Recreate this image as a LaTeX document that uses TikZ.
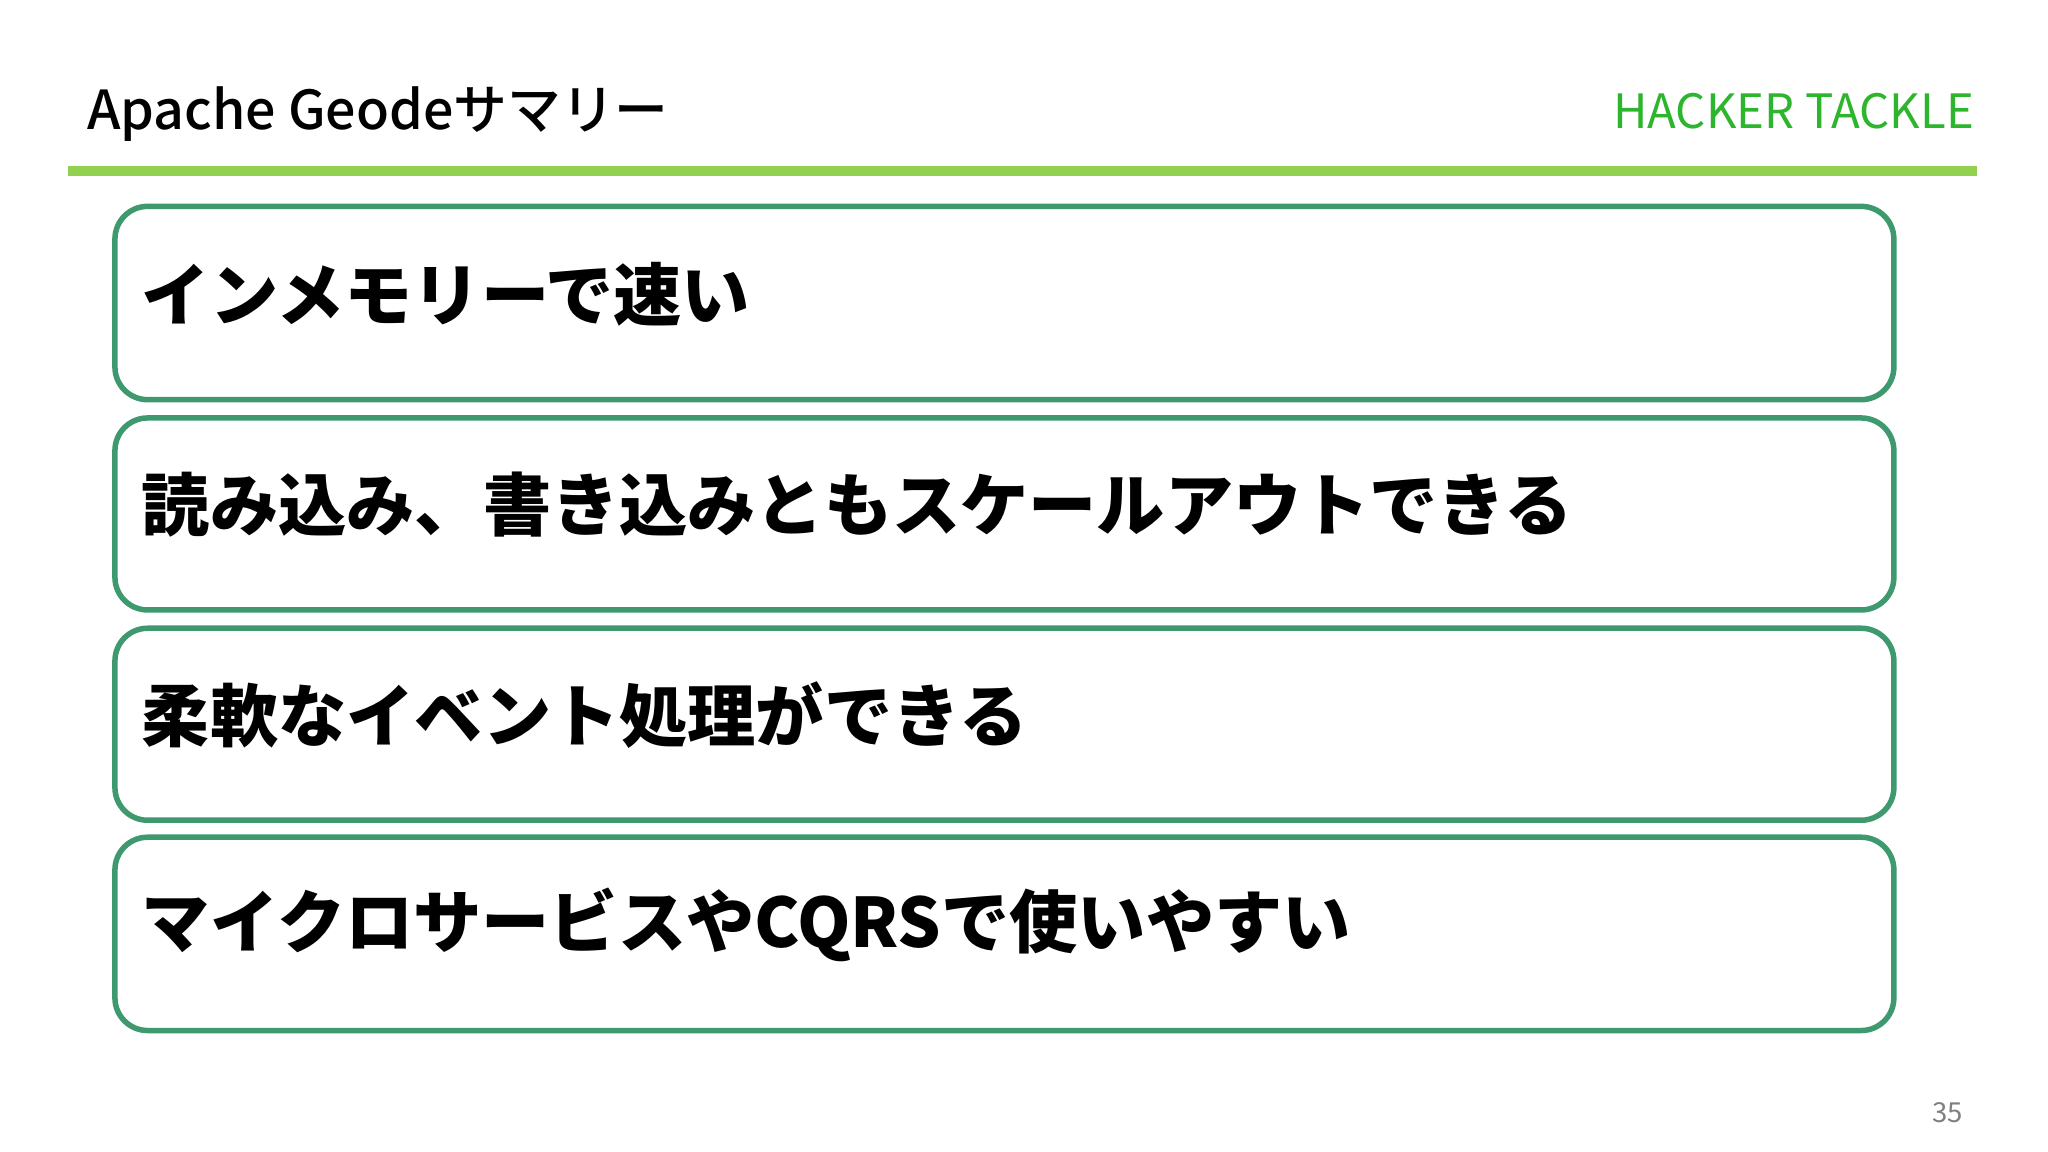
\documentclass[tikz,border=0pt]{standalone}
\usepackage{fontspec}
\setmainfont{Noto Sans CJK JP}
\definecolor{boxc}{HTML}{3E9A6E}
\definecolor{linec}{HTML}{92D050}
\definecolor{logoc}{HTML}{2DB52D}
\begin{document}
\begin{tikzpicture}[x=0.01cm,y=-0.01cm,
  itembox/.style={draw=boxc,line width=1.2pt,rounded corners=0.25cm,fill=white},
  itemtext/.style={anchor=west,font=\fontsize{14.85}{16}\selectfont\bfseries,inner sep=0pt}]
\useasboundingbox (0,0) rectangle (1568,882);
\fill[white] (0,0) rectangle (1568,882);
\node[anchor=west,inner sep=0pt,font=\fontsize{11.7}{14}\selectfont\fontspec{Noto Sans CJK JP Medium}] (title) at (66,87) {Apache Geodeサマリー};
\node[anchor=east,inner sep=0pt,text=logoc,font=\fontsize{10.3}{12}\selectfont] (logo) at (1512,85) {HACKER TACKLE};
\fill[linec] (52,127) rectangle (1514,135);
\foreach \i/\t/\b/\s in {a/158/306/インメモリーで速い,b/320/467/読み込み、書き込みともスケールアウトできる,c/481/628/柔軟なイベント処理ができる,d/641/789/マイクロサービスやCQRSで使いやすい}{
  \draw[itembox] (88,\t) rectangle (1450,\b);
  \node[itemtext] (t\i) at (108,{(\t+\b)/2-7}) {\s};
}
\node[text=gray,font=\fontsize{6}{7}\selectfont,inner sep=0pt] (pg) at (1491,852) {35};
\end{tikzpicture}
\end{document}
